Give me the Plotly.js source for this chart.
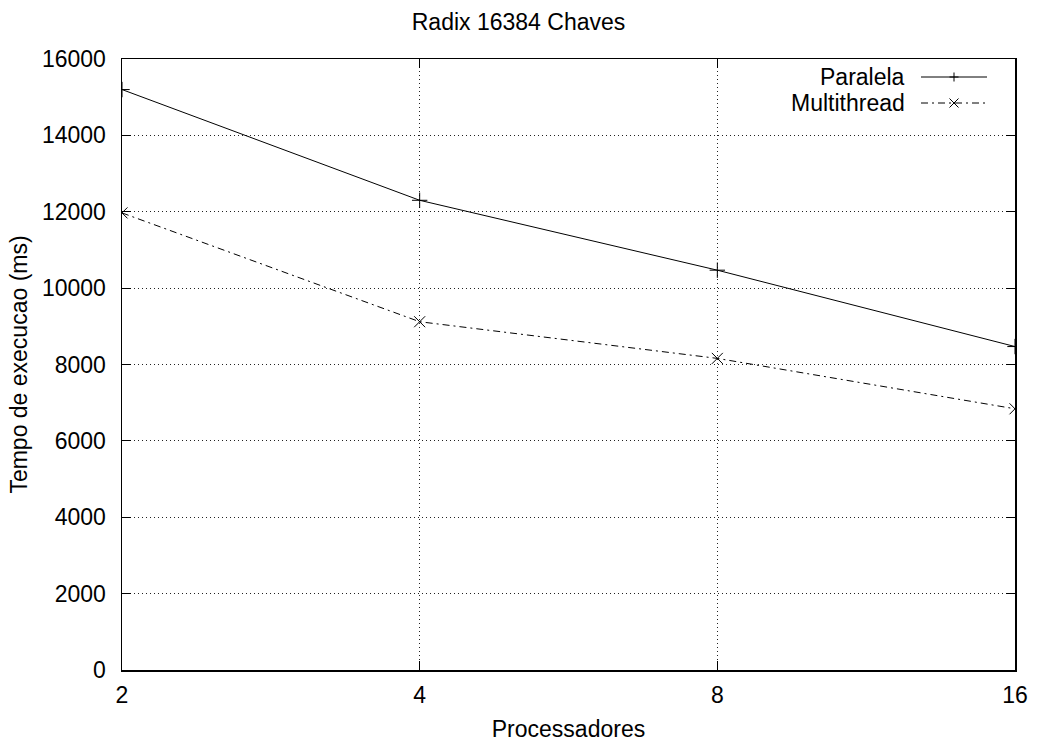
<!DOCTYPE html>
<html>
<head>
<meta charset="utf-8">
<script src="https://cdn.plot.ly/plotly-3.0.1.min.js"></script>
<style>html,body{margin:0;padding:0;background:#fff;}#chart{width:1037px;height:742px;}</style>
</head>
<body>
<div id="chart"></div>
<script>
const processadores = [2, 4, 8, 16];
const paralela = [15200, 12300, 10470, 8470];
const multithread = [11970, 9120, 8160, 6840];
const xTicks = [2, 4, 8, 16];
const seriesNames = ["Paralela", "Multithread"];

const font = "Liberation Sans, Arial, sans-serif";
const FS = 23;

const traces = [
  {x: processadores, y: paralela, name: seriesNames[0], mode: "lines+markers", type: "scatter",
   line: {color: "#000", width: 1}, marker: {symbol: "cross-thin-open", size: 11, color: "#000", line: {color: "#000", width: 1}},
   showlegend: false},
  {x: processadores, y: multithread, name: seriesNames[1], mode: "lines+markers", type: "scatter",
   line: {color: "#000", width: 1, dash: "7px,4px,2px,4px"}, marker: {symbol: "x-thin-open", size: 11, color: "#000", line: {color: "#000", width: 1}},
   showlegend: false}
];

// custom gnuplot-style legend (text left, sample right), in paper coordinates
const W = 1037, H = 742, L = 122, R = 22, T = 59, B = 72;
const pw = W - L - R, ph = H - T - B;
function px(x) { return (x - L) / pw; }
function py(y) { return 1 - (y - T) / ph; }
const rows = [77, 103];
const dashes = ["solid", "7px,4px,2px,4px"];
const shapes = [];
const annotations = [];
rows.forEach((ry, i) => {
  shapes.push({type: "line", xref: "paper", yref: "paper", x0: px(921), x1: px(987), y0: py(ry), y1: py(ry),
               line: {color: "#000", width: 1, dash: dashes[i]}});
  const mx = 954, s = 4.5;
  if (i === 0) {
    shapes.push({type: "line", xref: "paper", yref: "paper", x0: px(mx - s), x1: px(mx + s), y0: py(ry), y1: py(ry), line: {color: "#000", width: 1}});
    shapes.push({type: "line", xref: "paper", yref: "paper", x0: px(mx), x1: px(mx), y0: py(ry - s), y1: py(ry + s), line: {color: "#000", width: 1}});
  } else {
    shapes.push({type: "line", xref: "paper", yref: "paper", x0: px(mx - s), x1: px(mx + s), y0: py(ry - s), y1: py(ry + s), line: {color: "#000", width: 1}});
    shapes.push({type: "line", xref: "paper", yref: "paper", x0: px(mx - s), x1: px(mx + s), y0: py(ry + s), y1: py(ry - s), line: {color: "#000", width: 1}});
  }
  annotations.push({xref: "paper", yref: "paper", x: px(907), y: py(ry), xanchor: "right", yanchor: "middle",
                    text: seriesNames[i], showarrow: false, font: {family: font, size: FS, color: "#000"}});
});

const layout = {
  width: W, height: H,
  margin: {l: L, r: R, t: T, b: B, pad: 0},
  paper_bgcolor: "#fff", plot_bgcolor: "#fff",
  font: {family: font, size: FS, color: "#000"},
  title: {text: "Radix 16384 Chaves", font: {family: font, size: FS, color: "#000"},
          x: 0.5, xanchor: "center", y: 1 - 22 / H, yanchor: "middle", yref: "container"},
  xaxis: {type: "log", range: [Math.log10(2), Math.log10(16)], tickvals: xTicks, ticktext: xTicks.map(String),
          showgrid: true, gridcolor: "#222", griddash: "1px,3px", gridwidth: 1,
          showline: true, linecolor: "#000", linewidth: 1.5, mirror: "ticks",
          ticks: "inside", ticklen: 9, tickcolor: "#000", tickwidth: 1,
          zeroline: false, ticklabelstandoff: 4,
          tickfont: {family: font, size: FS},
          title: {text: "Processadores", font: {family: font, size: FS}, standoff: 14}},
  yaxis: {range: [0, 16000], dtick: 2000, tick0: 0, tickformat: "d",
          showgrid: true, gridcolor: "#222", griddash: "1px,3px", gridwidth: 1,
          showline: true, linecolor: "#000", linewidth: 1.5, mirror: "ticks",
          ticks: "inside", ticklen: 9, tickcolor: "#000", tickwidth: 1,
          zeroline: false, ticklabelstandoff: 10,
          tickfont: {family: font, size: FS},
          title: {text: "Tempo de execucao (ms)", font: {family: font, size: FS}, standoff: 8}},
  shapes: shapes,
  annotations: annotations,
  showlegend: false
};

Plotly.newPlot("chart", traces, layout, {displayModeBar: false, staticPlot: true});
</script>
</body>
</html>
